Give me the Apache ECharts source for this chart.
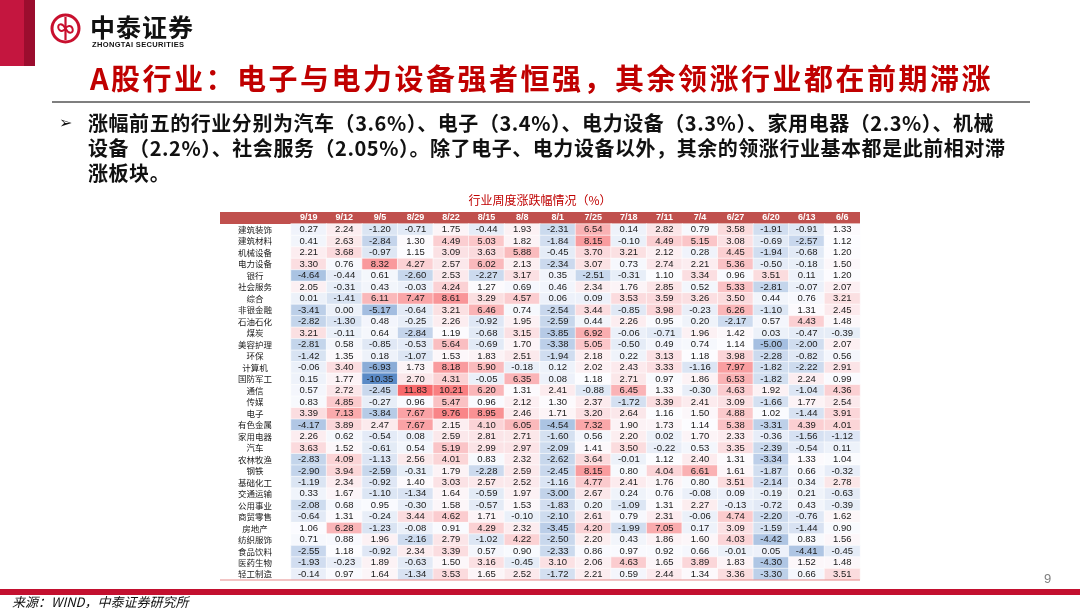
<!DOCTYPE html>
<html>
<head>
<meta charset="utf-8">
<script src="https://cdn.jsdelivr.net/npm/echarts@6/dist/echarts.min.js"></script>
<style>
  html, body { margin:0; padding:0; background:#fff; }
  body { width:1080px; height:608px; position:relative; overflow:hidden; font-family:"Noto Sans CJK SC", sans-serif; }
  #main { position:absolute; left:0; top:0; width:1080px; height:608px; }
  .ov { position:absolute; white-space:pre; z-index:5; }
</style>
</head>
<body>
<div id="main"></div>

<!-- page decorations -->
<div class="ov" style="left:0;top:0;width:24px;height:66px;background:#c4163f;"></div>
<div class="ov" style="left:24px;top:0;width:11px;height:66px;background:#9b0d2e;"></div>
<svg class="ov" style="left:50px;top:13px;" width="31" height="31" viewBox="0 0 31 31">
  <circle cx="15.5" cy="15.5" r="13.5" fill="none" stroke="#c8102e" stroke-width="3"/>
  <path d="M15.5 4 L15.5 27" stroke="#c8102e" stroke-width="2.2" fill="none"/>
  <path d="M15.5 15.5 C 12 9, 7 11, 8.5 15.5 C 10 19.5, 14 18, 15.5 15.5 C 17 13, 21 11.5, 22.5 15.5 C 24 20, 19 22, 15.5 15.5" stroke="#c8102e" stroke-width="2" fill="none"/>
</svg>
<div class="ov" style="left:90px;top:11px;font-size:25px;font-weight:bold;color:#111;letter-spacing:1px;line-height:30px;">中泰证券</div>
<div class="ov" style="left:92px;top:40px;font-family:'Liberation Sans',Arial,sans-serif;font-size:7.5px;font-weight:bold;color:#111;letter-spacing:0.35px;line-height:9px;">ZHONGTAI SECURITIES</div>

<div class="ov" style="left:90px;top:59px;font-size:29px;font-weight:bold;color:#c00000;letter-spacing:2.5px;line-height:36px;">A股行业：电子与电力设备强者恒强，其余领涨行业都在前期滞涨</div>
<div class="ov" style="left:52px;top:101px;width:978px;height:2px;background:#7f7f7f;"></div>

<div class="ov" style="left:59px;top:110px;font-family:'DejaVu Sans',sans-serif;font-size:16px;font-weight:bold;line-height:25px;color:#111;">➢</div>
<div class="ov" style="left:88px;top:110px;font-size:20px;font-weight:bold;color:#111;letter-spacing:0.55px;line-height:25px;">涨幅前五的行业分别为汽车（3.6%）、电子（3.4%）、电力设备（3.3%）、家用电器（2.3%）、机械
设备（2.2%）、社会服务（2.05%）。除了电子、电力设备以外，其余的领涨行业基本都是此前相对滞
涨板块。</div>

<div class="ov" style="left:1044px;top:571px;font-family:'Liberation Sans',Arial,sans-serif;font-size:13px;color:#7f7f7f;line-height:16px;">9</div>
<div class="ov" style="left:0;top:589px;width:1080px;height:6px;background:#c3102f;"></div>
<div class="ov" style="left:12px;top:594px;font-size:13px;font-style:italic;color:#111;line-height:15px;">来源：WIND，中泰证券研究所</div>

<script>
// ---- data (weekly % change by industry) ----
const weeks = ['9/19','9/12','9/5','8/29','8/22','8/15','8/8','8/1','7/25','7/18','7/11','7/4','6/27','6/20','6/13','6/6'];

const 建筑装饰 = [0.27, 2.24, -1.20, -0.71, 1.75, -0.44, 1.93, -2.31, 6.54, 0.14, 2.82, 0.79, 3.58, -1.91, -0.91, 1.33];
const 建筑材料 = [0.41, 2.63, -2.84, 1.30, 4.49, 5.03, 1.82, -1.84, 8.15, -0.10, 4.49, 5.15, 3.08, -0.69, -2.57, 1.12];
const 机械设备 = [2.21, 3.68, -0.97, 1.15, 3.09, 3.63, 5.88, -0.45, 3.70, 3.21, 2.12, 0.28, 4.45, -1.94, -0.68, 1.20];
const 电力设备 = [3.30, 0.76, 8.32, 4.27, 2.57, 6.02, 2.13, -2.34, 3.07, 0.73, 2.74, 2.21, 5.36, -0.50, -0.18, 1.50];
const 银行 = [-4.64, -0.44, 0.61, -2.60, 2.53, -2.27, 3.17, 0.35, -2.51, -0.31, 1.10, 3.34, 0.96, 3.51, 0.11, 1.20];
const 社会服务 = [2.05, -0.31, 0.43, -0.03, 4.24, 1.27, 0.69, 0.46, 2.34, 1.76, 2.85, 0.52, 5.33, -2.81, -0.07, 2.07];
const 综合 = [0.01, -1.41, 6.11, 7.47, 8.61, 3.29, 4.57, 0.06, 0.09, 3.53, 3.59, 3.26, 3.50, 0.44, 0.76, 3.21];
const 非银金融 = [-3.41, 0.00, -5.17, -0.64, 3.21, 6.46, 0.74, -2.54, 3.44, -0.85, 3.98, -0.23, 6.26, -1.10, 1.31, 2.45];
const 石油石化 = [-2.82, -1.30, 0.48, -0.25, 2.26, -0.92, 1.95, -2.59, 0.44, 2.26, 0.95, 0.20, -2.17, 0.57, 4.43, 1.48];
const 煤炭 = [3.21, -0.11, 0.64, -2.84, 1.19, -0.68, 3.15, -3.85, 6.92, -0.06, -0.71, 1.96, 1.42, 0.03, -0.47, -0.39];
const 美容护理 = [-2.81, 0.58, -0.85, -0.53, 5.64, -0.69, 1.70, -3.38, 5.05, -0.50, 0.49, 0.74, 1.14, -5.00, -2.00, 2.07];
const 环保 = [-1.42, 1.35, 0.18, -1.07, 1.53, 1.83, 2.51, -1.94, 2.18, 0.22, 3.13, 1.18, 3.98, -2.28, -0.82, 0.56];
const 计算机 = [-0.06, 3.40, -6.93, 1.73, 8.18, 5.90, -0.18, 0.12, 2.02, 2.43, 3.33, -1.16, 7.97, -1.82, -2.22, 2.91];
const 国防军工 = [0.15, 1.77, -10.35, 2.70, 4.31, -0.05, 6.35, 0.08, 1.18, 2.71, 0.97, 1.86, 6.53, -1.82, 2.24, 0.99];
const 通信 = [0.57, 2.72, -2.45, 11.83, 10.21, 6.20, 1.31, 2.41, -0.88, 6.45, 1.33, -0.30, 4.63, 1.92, -1.04, 4.36];
const 传媒 = [0.83, 4.85, -0.27, 0.96, 5.47, 0.96, 2.12, 1.30, 2.37, -1.72, 3.39, 2.41, 3.09, -1.66, 1.77, 2.54];
const 电子 = [3.39, 7.13, -3.84, 7.67, 9.76, 8.95, 2.46, 1.71, 3.20, 2.64, 1.16, 1.50, 4.88, 1.02, -1.44, 3.91];
const 有色金属 = [-4.17, 3.89, 2.47, 7.67, 2.15, 4.10, 6.05, -4.54, 7.32, 1.90, 1.73, 1.14, 5.38, -3.31, 4.39, 4.01];
const 家用电器 = [2.26, 0.62, -0.54, 0.08, 2.59, 2.81, 2.71, -1.60, 0.56, 2.20, 0.02, 1.70, 2.33, -0.36, -1.56, -1.12];
const 汽车 = [3.63, 1.52, -0.61, 0.54, 5.19, 2.99, 2.97, -2.09, 1.41, 3.50, -0.22, 0.53, 3.35, -2.39, -0.54, 0.11];
const 农林牧渔 = [-2.83, 4.09, -1.13, 2.56, 4.01, 0.83, 2.32, -2.62, 3.64, -0.01, 1.12, 2.40, 1.31, -3.34, 1.33, 1.04];
const 钢铁 = [-2.90, 3.94, -2.59, -0.31, 1.79, -2.28, 2.59, -2.45, 8.15, 0.80, 4.04, 6.61, 1.61, -1.87, 0.66, -0.32];
const 基础化工 = [-1.19, 2.34, -0.92, 1.40, 3.03, 2.57, 2.52, -1.16, 4.77, 2.41, 1.76, 0.80, 3.51, -2.14, 0.34, 2.78];
const 交通运输 = [0.33, 1.67, -1.10, -1.34, 1.64, -0.59, 1.97, -3.00, 2.67, 0.24, 0.76, -0.08, 0.09, -0.19, 0.21, -0.63];
const 公用事业 = [-2.08, 0.68, 0.95, -0.30, 1.58, -0.57, 1.53, -1.83, 0.20, -1.09, 1.31, 2.27, -0.13, -0.72, 0.43, -0.39];
const 商贸零售 = [-0.64, 1.31, -0.24, 3.44, 4.62, 1.71, -0.10, -2.10, 2.61, 0.79, 2.31, -0.06, 4.74, -2.20, -0.76, 1.62];
const 房地产 = [1.06, 6.28, -1.23, -0.08, 0.91, 4.29, 2.32, -3.45, 4.20, -1.99, 7.05, 0.17, 3.09, -1.59, -1.44, 0.90];
const 纺织服饰 = [0.71, 0.88, 1.96, -2.16, 2.79, -1.02, 4.22, -2.50, 2.20, 0.43, 1.86, 1.60, 4.03, -4.42, 0.83, 1.56];
const 食品饮料 = [-2.55, 1.18, -0.92, 2.34, 3.39, 0.57, 0.90, -2.33, 0.86, 0.97, 0.92, 0.66, -0.01, 0.05, -4.41, -0.45];
const 医药生物 = [-1.93, -0.23, 1.89, -0.63, 1.50, 3.16, -0.45, 3.10, 2.06, 4.63, 1.65, 3.89, 1.83, -4.30, 1.52, 1.48];
const 轻工制造 = [-0.14, 0.97, 1.64, -1.34, 3.53, 1.65, 2.52, -1.72, 2.21, 0.59, 2.44, 1.34, 3.36, -3.30, 0.66, 3.51];

const industries = ['建筑装饰','建筑材料','机械设备','电力设备','银行','社会服务','综合','非银金融','石油石化','煤炭','美容护理','环保','计算机','国防军工','通信','传媒','电子','有色金属','家用电器','汽车','农林牧渔','钢铁','基础化工','交通运输','公用事业','商贸零售','房地产','纺织服饰','食品饮料','医药生物','轻工制造'];
const rowValues = [建筑装饰,建筑材料,机械设备,电力设备,银行,社会服务,综合,非银金融,石油石化,煤炭,美容护理,环保,计算机,国防军工,通信,传媒,电子,有色金属,家用电器,汽车,农林牧渔,钢铁,基础化工,交通运输,公用事业,商贸零售,房地产,纺织服饰,食品饮料,医药生物,轻工制造];

// ---- 3-colour scale (Excel style: min blue, median white, max red) ----
const all = rowValues.flat().slice().sort((a,b)=>a-b);
const vMin = all[0], vMax = all[all.length-1];
const vMid = all[Math.floor(all.length/2)];
const WHITE = [252,252,255], RED = [248,105,107], BLUE = [90,138,198];
function mix(a,b,t){ return 'rgb(' + a.map((c,i)=>Math.round(c+(b[i]-c)*t)).join(',') + ')'; }
function cellColor(v){
  if (v >= vMid) return mix(WHITE, RED, (v - vMid) / (vMax - vMid));
  return mix(WHITE, BLUE, (vMid - v) / (vMid - vMin));
}

const data = [];
rowValues.forEach((row, y) => row.forEach((v, x) => {
  data.push({ value: [x, y, v], itemStyle: { color: cellColor(v) } });
}));

const chart = echarts.init(document.getElementById('main'), null, { renderer: 'canvas' });
chart.setOption({
  animation: false,
  backgroundColor: '#fff',
  title: {
    text: '行业周度涨跌幅情况（%）',
    left: 'center', top: 189,
    textStyle: { color: '#c00000', fontSize: 12, fontWeight: 'normal', fontFamily: 'Noto Sans CJK SC' }
  },
  graphic: [
    { type: 'rect', z: -10, shape: { x: 220, y: 212, width: 640, height: 12 }, style: { fill: '#c0504d' } },
    { type: 'line', z: 10, shape: { x1: 220, y1: 580, x2: 860, y2: 580 }, style: { stroke: '#e58a8a', lineWidth: 1 } }
  ],
  grid: { left: 291, top: 224, width: 569, height: 356 },
  xAxis: {
    type: 'category', position: 'top', data: weeks, z: 10,
    axisLine: { show: false }, axisTick: { show: false }, splitLine: { show: false },
    axisLabel: { color: '#fff', fontSize: 9, fontWeight: 'bold', margin: 2, interval: 0, fontFamily: 'Liberation Sans' }
  },
  yAxis: {
    type: 'category', inverse: true, data: industries,
    axisLine: { show: false }, axisTick: { show: false }, splitLine: { show: false },
    axisLabel: { color: '#222', fontSize: 8.5, align: 'center', margin: 36, interval: 0, fontFamily: 'Noto Sans CJK SC' }
  },
  series: [{
    type: 'heatmap',
    data: data,
    itemStyle: { borderColor: 'rgba(255,255,255,0.85)', borderWidth: 0.7 },
    label: {
      show: true, fontSize: 9.5, color: '#1a1a1a', fontFamily: 'Liberation Sans',
      formatter: p => p.value[2].toFixed(2)
    },
    emphasis: { disabled: true }
  }]
});
</script>
</body>
</html>
